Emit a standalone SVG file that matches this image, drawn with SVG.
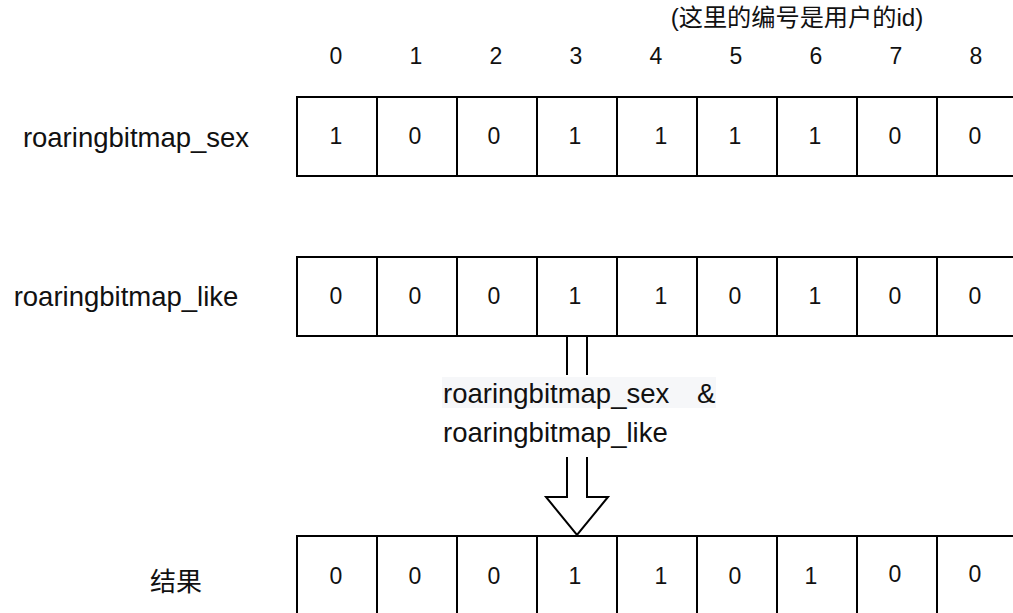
<svg xmlns="http://www.w3.org/2000/svg" width="1013" height="613" viewBox="0 0 1013 613">
<style>
.cell{fill:#fff;stroke:#000;stroke-width:2}
.d{font-family:"Liberation Sans",Arial,sans-serif;font-size:23px;fill:#111;text-anchor:middle}
.lbl{font-family:"Liberation Sans",Arial,sans-serif;font-size:27.5px;fill:#111}
.cjk{font-family:"Liberation Sans","Noto Sans CJK SC",sans-serif;font-size:26px;fill:#111}
.note{font-size:24.2px}
</style>
<rect width="1013" height="613" fill="#fff"/>
<g id="note"><text class="cjk note" x="797" y="26" text-anchor="middle">(这里的编号是用户的id)</text></g>
<g id="header">
<text class="d" x="336" y="64">0</text><text class="d" x="416" y="64">1</text><text class="d" x="496" y="64">2</text><text class="d" x="576" y="64">3</text><text class="d" x="656" y="64">4</text><text class="d" x="736" y="64">5</text><text class="d" x="816" y="64">6</text><text class="d" x="896" y="64">7</text><text class="d" x="976" y="64">8</text>
</g>
<g id="label-sex"><text class="lbl" x="136" y="147" text-anchor="middle">roaringbitmap_sex</text></g>
<g id="label-like"><text class="lbl" x="126" y="306" text-anchor="middle">roaringbitmap_like</text></g>
<g id="label-result"><text class="cjk" x="176" y="591" text-anchor="middle">结果</text></g>
<g id="row-sex">
<rect class="cell" x="297" y="97" width="80" height="79"/><rect class="cell" x="377" y="97" width="80" height="79"/><rect class="cell" x="457" y="97" width="80" height="79"/><rect class="cell" x="537" y="97" width="80" height="79"/><rect class="cell" x="617" y="97" width="80" height="79"/><rect class="cell" x="697" y="97" width="80" height="79"/><rect class="cell" x="777" y="97" width="80" height="79"/><rect class="cell" x="857" y="97" width="80" height="79"/><rect class="cell" x="937" y="97" width="80" height="79"/>
<text class="d" x="336" y="144">1</text><text class="d" x="415" y="144">0</text><text class="d" x="494" y="144">0</text><text class="d" x="575" y="144">1</text><text class="d" x="661" y="144">1</text><text class="d" x="735" y="144">1</text><text class="d" x="815" y="144">1</text><text class="d" x="895" y="144">0</text><text class="d" x="975" y="144">0</text>
</g>
<g id="row-like">
<rect class="cell" x="297" y="257" width="80" height="79"/><rect class="cell" x="377" y="257" width="80" height="79"/><rect class="cell" x="457" y="257" width="80" height="79"/><rect class="cell" x="537" y="257" width="80" height="79"/><rect class="cell" x="617" y="257" width="80" height="79"/><rect class="cell" x="697" y="257" width="80" height="79"/><rect class="cell" x="777" y="257" width="80" height="79"/><rect class="cell" x="857" y="257" width="80" height="79"/><rect class="cell" x="937" y="257" width="80" height="79"/>
<text class="d" x="336" y="304">0</text><text class="d" x="415" y="304">0</text><text class="d" x="494" y="304">0</text><text class="d" x="575" y="304">1</text><text class="d" x="661" y="304">1</text><text class="d" x="735" y="304">0</text><text class="d" x="815" y="304">1</text><text class="d" x="895" y="304">0</text><text class="d" x="975" y="304">0</text>
</g>
<g id="row-result">
<rect class="cell" x="297" y="536" width="80" height="80"/><rect class="cell" x="377" y="536" width="80" height="80"/><rect class="cell" x="457" y="536" width="80" height="80"/><rect class="cell" x="537" y="536" width="80" height="80"/><rect class="cell" x="617" y="536" width="80" height="80"/><rect class="cell" x="697" y="536" width="80" height="80"/><rect class="cell" x="777" y="536" width="80" height="80"/><rect class="cell" x="857" y="536" width="80" height="80"/><rect class="cell" x="937" y="536" width="80" height="80"/>
<text class="d" x="336" y="584">0</text><text class="d" x="415" y="584">0</text><text class="d" x="494" y="584">0</text><text class="d" x="575" y="584">1</text><text class="d" x="661" y="584">1</text><text class="d" x="735" y="584">0</text><text class="d" x="811" y="584">1</text><text class="d" x="895" y="582">0</text><text class="d" x="975" y="582">0</text>
</g>
<g id="connectors">
<path d="M567,337 V497 H546 L577,535 L608,497 H587 V337" fill="#fff" stroke="#000" stroke-width="2" stroke-linejoin="miter"/>
<rect x="442" y="375" width="274" height="82" fill="#fff"/>
<rect x="442" y="377" width="274" height="31" fill="#f6f7f9"/>
<text class="lbl" x="443" y="403">roaringbitmap_sex<tspan x="697">&amp;</tspan></text>
<text class="lbl" x="443" y="442">roaringbitmap_like</text>
</g>
</svg>
